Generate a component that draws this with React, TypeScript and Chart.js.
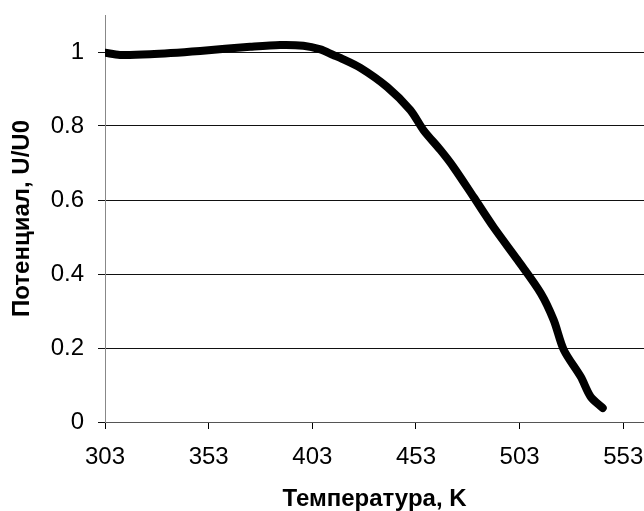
import React, { useEffect, useRef } from "react";
import { Chart, registerables } from "chart.js";

Chart.register(...registerables);

const temperatures = [303, 310.2, 324.7, 348.9, 373.0, 387.5, 398.7, 406.9, 413.1, 416.5, 426.2, 439.2, 450.3, 456.6, 464.8, 471.1, 480.8, 490.4, 502.0, 513.1, 519.4, 524.3, 532.5, 537.3, 543.1];
const potentials = [0.998, 0.992, 0.994, 1.003, 1.014, 1.019, 1.017, 1.007, 0.992, 0.984, 0.957, 0.905, 0.843, 0.789, 0.735, 0.689, 0.608, 0.527, 0.438, 0.349, 0.276, 0.195, 0.122, 0.068, 0.038];
const xTicks = [303, 353, 403, 453, 503, 553];
const yTicks = [0, 0.2, 0.4, 0.6, 0.8, 1];
const xTitle = "Температура, K";
const yTitle = "Потенциал, U/U0";

export default function App() {
  const ref = useRef<HTMLCanvasElement | null>(null);
  useEffect(() => {
    if (!ref.current) return;
    const family = "'Liberation Sans', Arial, sans-serif";
    const font = { family, size: 24 };
    const titleFont = { family, size: 24, weight: "bold" };
    const chart = new Chart(ref.current, {
      type: "line",
      data: {
        datasets: [
          {
            data: temperatures.map((t, i) => ({ x: t, y: potentials[i] })),
            borderColor: "#000",
            backgroundColor: "#000",
            borderWidth: 8,
            borderCapStyle: "round",
            borderJoinStyle: "round",
            pointRadius: 0,
            tension: 0.3,
            fill: false,
          },
        ],
      },
      options: {
        responsive: false,
        animation: false,
        layout: { padding: { top: 15, right: 0, left: 0, bottom: 0 } },
        plugins: { legend: { display: false }, tooltip: { enabled: false } },
        scales: {
          x: {
            type: "linear",
            min: 303,
            max: 563,
            afterBuildTicks: (s: any) => {
              s.ticks = xTicks.map((v) => ({ value: v }));
            },
            afterFit: (s: any) => {
              s.height = 89;
              s.paddingLeft = 0;
              s.paddingRight = 0;
            },
            ticks: { color: "#000", font, padding: 14, maxRotation: 0, autoSkip: false, callback: (v: any) => String(v) },
            grid: { drawOnChartArea: false, drawTicks: true, tickLength: 7, color: "#000" },
            border: { color: "#555", width: 1 },
            title: { display: true, text: xTitle, color: "#000", font: titleFont, padding: { top: 0, bottom: -3 } },
          },
          y: {
            min: 0,
            max: 1.1,
            afterBuildTicks: (s: any) => {
              s.ticks = yTicks.map((v) => ({ value: v }));
            },
            afterFit: (s: any) => {
              s.width = 105;
              s.paddingTop = 0;
              s.paddingBottom = 0;
            },
            ticks: { color: "#000", font, padding: 14, autoSkip: false, callback: (v: any) => String(Math.round(v * 10) / 10) },
            grid: { drawOnChartArea: true, drawTicks: true, tickLength: 7, color: "#111", lineWidth: 1 },
            border: { color: "#888", width: 1 },
            title: { display: true, text: yTitle, color: "#000", font: titleFont, padding: { top: 8, bottom: 0 } },
          },
        },
      },
    } as any);
    return () => chart.destroy();
  }, []);
  return (
    <div style={{ position: "absolute", left: 0, top: 0, width: 644, height: 511, background: "#fff" }}>
      <canvas ref={ref} width={644} height={511} style={{ display: "block" }} />
    </div>
  );
}
